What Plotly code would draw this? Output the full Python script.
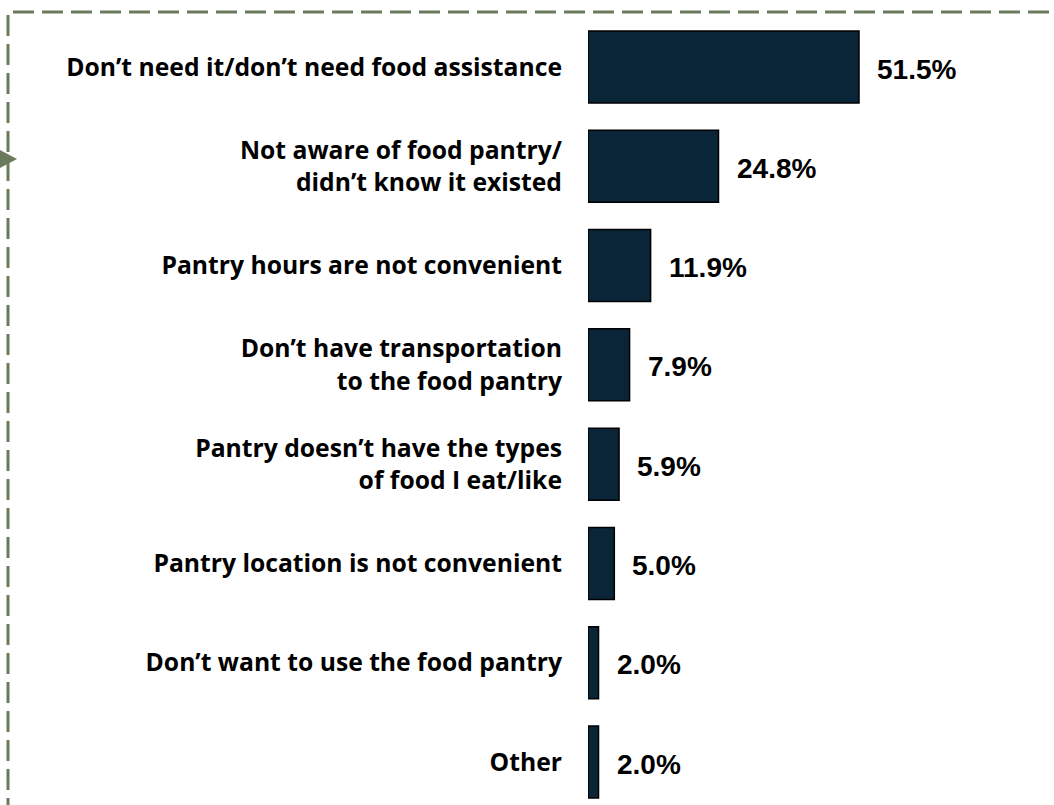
import plotly.graph_objects as go

categories = [
    "Don’t need it/don’t need food assistance",
    "Not aware of food pantry/<br>didn’t know it existed",
    "Pantry hours are not convenient",
    "Don’t have transportation<br>to the food pantry",
    "Pantry doesn’t have the types<br>of food I eat/like",
    "Pantry location is not convenient",
    "Don’t want to use the food pantry",
    "Other",
]
values = [51.5, 24.8, 11.9, 7.9, 5.9, 5.0, 2.0, 2.0]
value_labels = ["51.5%", "24.8%", "11.9%", "7.9%", "5.9%", "5.0%", "2.0%", "2.0%"]

W, H = 1054, 805
BAR_COLOR = "#0A2438"
BORDER = "#6B7A5C"

fig = go.Figure()
fig.add_trace(go.Bar(
    x=values,
    y=categories,
    orientation="h",
    width=0.725,
    marker=dict(color=BAR_COLOR, line=dict(color="#000000", width=1.5)),
    hoverinfo="skip",
))

for c, v, t in zip(categories, values, value_labels):
    fig.add_annotation(
        x=v, y=c, text=t, showarrow=False, xanchor="left", yanchor="middle",
        xshift=16, yshift=-2,
        font=dict(family="Liberation Sans, Arial", size=28, color="#000000",
                  weight="bold"),
    )

# y mapping: first category center at px 67, last at px 762
step = (762 - 67) / 7
y_top = -67 / step
y_bot = 7 + (H - 762) / step

x0_px = 588
px_per_unit = 271 / 51.5
x_max = 80
x1_px = x0_px + x_max * px_per_unit

fig.update_layout(
    width=W, height=H,
    margin=dict(l=0, r=0, t=0, b=0),
    paper_bgcolor="white", plot_bgcolor="white",
    showlegend=False,
    xaxis=dict(domain=[x0_px / W, x1_px / W], range=[0, x_max],
               visible=False, fixedrange=True),
    yaxis=dict(domain=[0, 1], type="category", categoryorder="array",
               categoryarray=categories, range=[y_bot, y_top],
               showgrid=False, zeroline=False, showline=False, ticks="",
               ticklabelstandoff=25,
               tickfont=dict(family="Open Sans", size=24.7, color="#000000",
                             weight="bold"),
               fixedrange=True),
)

def px(x):
    return x / W

def py(y):
    return 1 - y / H

dash = "21px,8px"
fig.add_shape(type="line", xref="paper", yref="paper",
              x0=px(13), y0=py(12), x1=px(W + 5), y1=py(12),
              line=dict(color=BORDER, width=3, dash=dash))
fig.add_shape(type="line", xref="paper", yref="paper",
              x0=px(8), y0=py(15), x1=px(8), y1=py(H + 5),
              line=dict(color=BORDER, width=3, dash=dash))
fig.add_shape(type="path", xref="paper", yref="paper",
              path=f"M {px(-2)},{py(149)} L {px(17)},{py(159)} L {px(-2)},{py(169)} Z",
              fillcolor=BORDER, line=dict(color=BORDER, width=0))

fig.write_html("out.html", config={"displayModeBar": False},
               post_script="document.body.style.margin='0';document.body.style.overflow='hidden';")
